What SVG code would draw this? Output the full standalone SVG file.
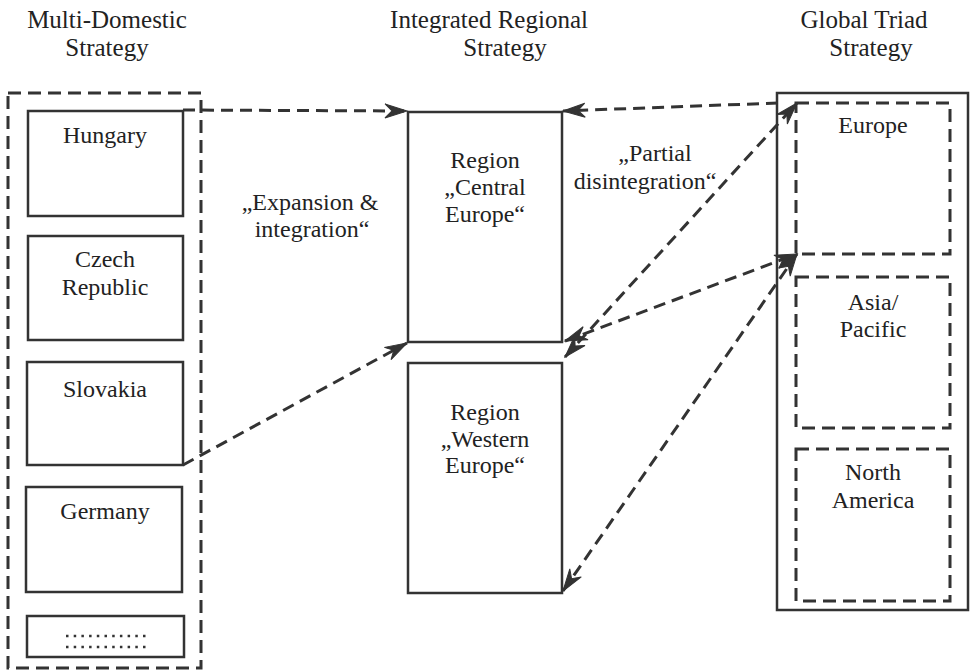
<svg xmlns="http://www.w3.org/2000/svg" width="970" height="671" viewBox="0 0 970 671" font-family="'Liberation Serif','Times New Roman',serif">
<defs>
<style>
text{font-family:'Liberation Serif','Times New Roman',serif;fill:#222;text-anchor:middle}
.t{font-size:25px}
.l{font-size:24px}
.box{fill:none;stroke:#333;stroke-width:2.5}
.dbox{fill:none;stroke:#333;stroke-width:3;stroke-dasharray:13 7}
.conn{fill:none;stroke:#333;stroke-width:3;stroke-dasharray:12 7}
.dots{stroke:#333;stroke-width:2.5;stroke-dasharray:2.5 5.2}
</style>
<marker id="ah" viewBox="-24 -10 26 20" refX="0" refY="0" markerWidth="26" markerHeight="20" markerUnits="userSpaceOnUse" orient="auto-start-reverse">
<path d="M0,0 L-22,-7 L-15,0 L-22,7 Z" fill="#333" stroke="#333" stroke-width="1" stroke-dasharray="none"/>
</marker>
</defs>
<rect width="970" height="671" fill="#fff"/>

<g id="titles">
<text class="t" x="107" y="28">Multi-Domestic</text>
<text class="t" x="107" y="56">Strategy</text>
<text class="t" x="489" y="28">Integrated Regional</text>
<text class="t" x="505" y="56">Strategy</text>
<text class="t" x="864" y="28">Global Triad</text>
<text class="t" x="871" y="56">Strategy</text>
</g>

<g id="multi-domestic">
<rect class="dbox" x="8" y="93" width="193" height="575"/>
</g>
<g id="hungary"><rect class="box" x="28" y="111" width="155" height="105"/><text class="l" x="105" y="143">Hungary</text></g>
<g id="czech"><rect class="box" x="28" y="236" width="155" height="104"/><text class="l" x="105" y="267">Czech</text><text class="l" x="105" y="295">Republic</text></g>
<g id="slovakia"><rect class="box" x="27" y="362" width="156" height="103"/><text class="l" x="105" y="397">Slovakia</text></g>
<g id="germany"><rect class="box" x="26" y="487" width="156" height="105"/><text class="l" x="105" y="519">Germany</text></g>
<g id="more"><rect class="box" x="27" y="616" width="157" height="41"/>
<line class="dots" x1="66" y1="636" x2="146" y2="636"/><line class="dots" x1="66" y1="647" x2="146" y2="647"/></g>

<g id="central-europe"><rect class="box" x="408" y="112" width="154" height="230"/>
<text class="l" x="485" y="168">Region</text><text class="l" x="485" y="195">„Central</text><text class="l" x="485" y="222">Europe“</text></g>
<g id="western-europe"><rect class="box" x="408" y="363" width="154" height="230"/>
<text class="l" x="485" y="420">Region</text><text class="l" x="485" y="447">„Western</text><text class="l" x="485" y="473">Europe“</text></g>

<g id="global-triad"><rect class="box" x="777" y="93" width="191" height="517" stroke-width="3"/></g>
<g id="europe"><rect class="dbox" x="796" y="103" width="154" height="151"/><text class="l" x="873" y="133">Europe</text></g>
<g id="asia-pacific"><rect class="dbox" x="796" y="277" width="154" height="151"/><text class="l" x="873" y="310">Asia/</text><text class="l" x="873" y="337">Pacific</text></g>
<g id="north-america"><rect class="dbox" x="796" y="449" width="154" height="152"/><text class="l" x="873" y="480">North</text><text class="l" x="873" y="508">America</text></g>

<g id="labels">
<text class="l" x="310" y="210">„Expansion &amp;</text>
<text class="l" x="312" y="237">integration“</text>
<text class="l" x="655" y="161">„Partial</text>
<text class="l" x="645" y="189">disintegration“</text>
</g>

<g id="connectors">
<path class="conn" d="M183,110 L407,111" marker-end="url(#ah)"/>
<path class="conn" d="M778,103 L563,111" marker-end="url(#ah)"/>
<path class="conn" d="M565,357 L797,103" marker-start="url(#ah)" marker-end="url(#ah)"/>
<path class="conn" d="M565,341 L797,254" marker-start="url(#ah)" marker-end="url(#ah)"/>
<path class="conn" d="M563,591 L797,254" marker-start="url(#ah)" marker-end="url(#ah)"/>
<path class="conn" d="M183,465 L407,343" marker-end="url(#ah)"/>
</g>
</svg>
